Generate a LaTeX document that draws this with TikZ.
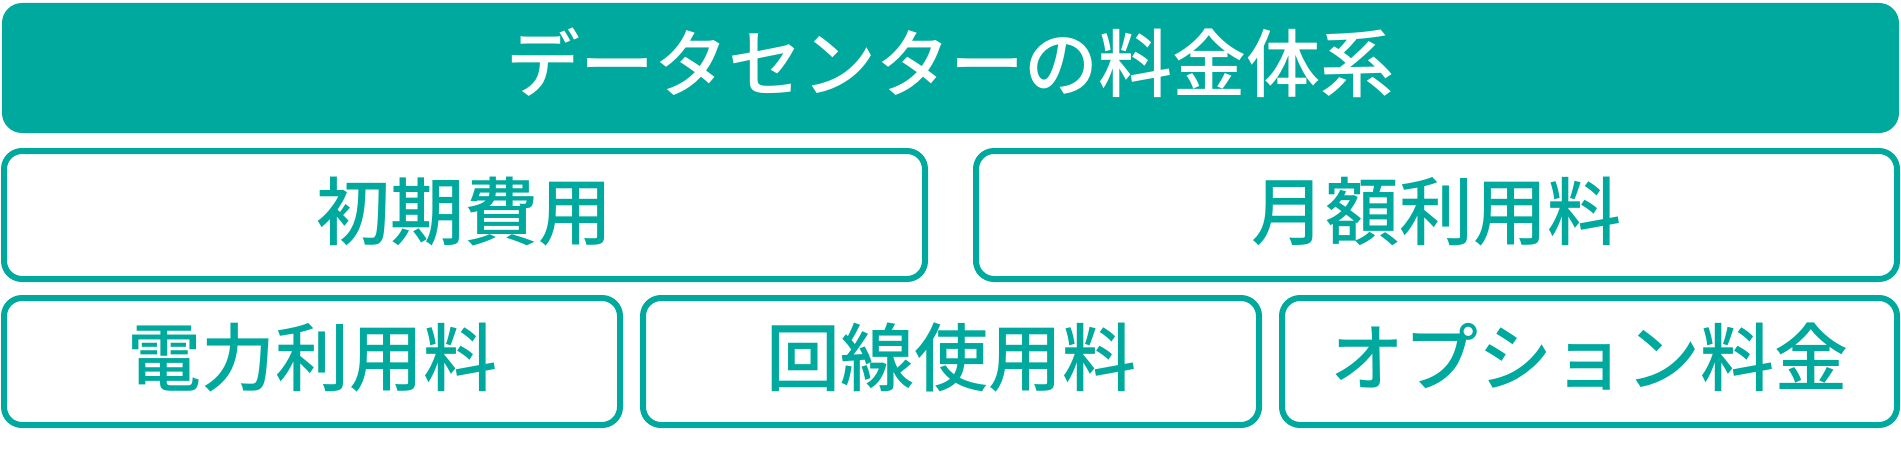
\documentclass[tikz,border=0pt]{standalone}
\usepackage{fontspec}
\newfontfamily\jpfont{Noto Sans CJK JP}[BoldFont = {Noto Sans CJK JP Medium}]
\definecolor{feeteal}{HTML}{00A99D}
\begin{document}
\begin{tikzpicture}[x = 1pt, y = -1pt,
        feebox/.style = {draw = feeteal, fill = white, text = feeteal, line width = 6pt, rounded corners = 18pt, inner sep = 0pt, text height = 59pt, text depth = 11pt}]
        \useasboundingbox (0,0) rectangle (1901,452);
        \begin{scope}[font = \jpfont\bfseries\fontsize{74}{80}\selectfont]
            \node [fill = feeteal, text = white, rounded corners = 20pt, inner sep = 0pt, text height = 59pt, text depth = 11pt, minimum width = 1897pt, minimum height = 130pt] (title) at (950.5,68) {データセンターの料金体系};
            \node [feebox, minimum width = 921pt, minimum height = 128pt] (initial) at (464.5,215) {初期費用};
            \node [feebox, minimum width = 921pt, minimum height = 128pt] (monthly) at (1436.5,215) {月額利用料};
            \node [feebox, minimum width = 616pt, minimum height = 127pt] (power) at (312,361.5) {電力利用料};
            \node [feebox, minimum width = 616pt, minimum height = 127pt] (line) at (951,361.5) {回線使用料};
            \node [feebox, minimum width = 615pt, minimum height = 127pt] (option) at (1589.5,361.5) {オプション料金};
        \end{scope}
    \end{tikzpicture}
\end{document}
